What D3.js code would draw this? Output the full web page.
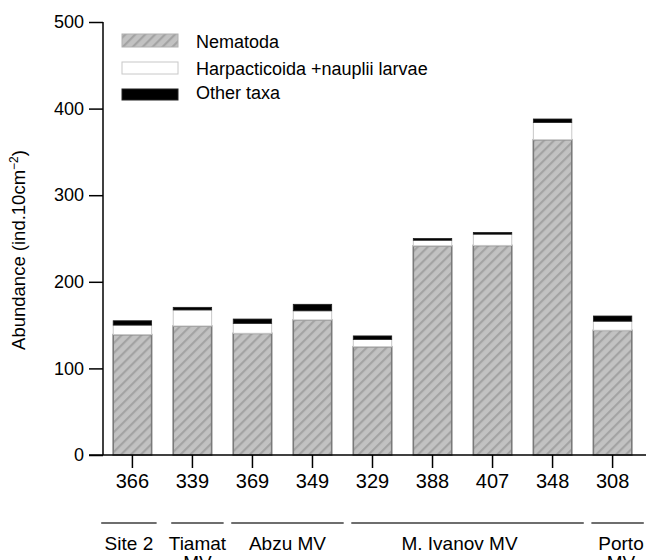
<!DOCTYPE html>
<html>
<head lang="en">
  <title>Abundance stacked bars</title>
  <script src="https://d3js.org/d3.v7.min.js" charset="utf-8"></script>
  <style>
    body { margin: 0; background: #fff; }
    text { font-family: "Liberation Sans", Arial, sans-serif; fill: #000; }
  </style>
</head>
<body>
  <script>

    // station codes and groups
    var stations = ["366", "339", "369", "349", "329", "388", "407", "348", "308"];
    var groups = ["Site 2", "Tiamat MV", "Abzu MV", "Abzu MV", "M. Ivanov MV", "M. Ivanov MV", "M. Ivanov MV", "M. Ivanov MV", "Porto MV"];
    var groupLabels = [["Site 2"], ["Tiamat", "MV"], ["Abzu MV"], ["M. Ivanov MV"], ["Porto", "MV"]];

    // abundances (ind. 10cm-2)
    var nematoda = [139, 149, 140.5, 156, 125, 241.5, 242, 364, 144];
    var harpacticoida = [11, 18.5, 11.5, 10.5, 8.5, 6.5, 13, 20, 10.5];
    var otherTaxa = [5, 3, 5, 7.5, 4, 2, 2, 4, 6];

    var yTicks = [0, 100, 200, 300, 400, 500];
    var seriesNames = ["Nematoda", "Harpacticoida +nauplii larvae", "Other taxa"];

    var width = 646;
    var height = 560;

    var svg = d3.select("body")
      .append("svg")
      .attr("width", width)
      .attr("height", height);

    // hatch pattern for nematoda
    var defs = svg.append("defs");
    var pat = defs.append("pattern")
      .attr("id", "hatch")
      .attr("patternUnits", "userSpaceOnUse")
      .attr("width", 7)
      .attr("height", 7)
      .attr("patternTransform", "rotate(45)");
    pat.append("rect")
      .attr("width", 7).attr("height", 7)
      .attr("fill", "#c2c2c2");
    pat.append("rect")
      .attr("width", 2.2).attr("height", 7)
      .attr("fill", "#a3a3a3");

    var x = d3.scaleBand()
      .domain(stations)
      .range([103, 642])
      .paddingInner(0.36)
      .paddingOuter(0.17);

    var y = d3.scaleLinear()
      .domain([0, 500])
      .range([455, 22]);

    var rows = stations.map(function(s, i) {
      return { station: s, group: groups[i], nem: nematoda[i], harp: harpacticoida[i], other: otherTaxa[i] };
    });

    var stack = d3.stack().keys(["nem", "harp", "other"])(rows);

    var fills = ["url(#hatch)", "#fff", "#000"];
    var strokes = ["#7a7a7a", "#c8c8c8", "#222"];
    var strokeW = [1.6, 1, 0.8];

    svg.append("g")
      .selectAll("g")
      .data(stack)
      .enter().append("g")
        .attr("fill", function(d, i) { return fills[i]; })
        .attr("stroke", function(d, i) { return strokes[i]; })
        .attr("stroke-width", function(d, i) { return strokeW[i]; })
      .selectAll("rect")
        .data(function(d) { return d; })
      .enter().append("rect")
        .attr("x", function(d) { return x(d.data.station); })
        .attr("width", x.bandwidth())
        .attr("y", function(d) { return y(d[1]); })
        .attr("height", function(d) { return y(d[0]) - y(d[1]); });

    // y axis
    var yAxis = svg.append("g")
      .attr("transform", "translate(103,0)")
      .call(d3.axisLeft(y).tickValues(yTicks).tickSize(14).tickPadding(5));
    yAxis.selectAll("line, path").attr("stroke", "#000").attr("stroke-width", 1.5);
    yAxis.select(".domain").attr("d", "M0," + y(500) + "V" + y(0));
    yAxis.selectAll("text").attr("font-size", "18px").attr("font-family", "Liberation Sans, Arial, sans-serif");

    // x axis line
    svg.append("line")
      .attr("x1", 89).attr("x2", width)
      .attr("y1", y(0)).attr("y2", y(0))
      .attr("stroke", "#000").attr("stroke-width", 1.5);

    var xAxis = svg.append("g")
      .attr("transform", "translate(0," + y(0) + ")")
      .call(d3.axisBottom(x).tickSize(13).tickPadding(6));
    xAxis.select(".domain").remove();
    xAxis.selectAll("line").attr("stroke", "#000").attr("stroke-width", 1.5);
    xAxis.selectAll("text").attr("font-size", "20px").attr("font-family", "Liberation Sans, Arial, sans-serif");

    // group lines and labels
    var groupNames = [];
    groups.forEach(function(g) { if (groupNames.indexOf(g) < 0) groupNames.push(g); });

    groupNames.forEach(function(g, gi) {
      var members = stations.filter(function(s, i) { return groups[i] === g; });
      var x0 = x(members[0]) - (gi === 0 ? 12 : 2);
      var x1 = Math.min(x(members[members.length - 1]) + x.bandwidth() + (gi === 0 ? 5 : 12), width);
      svg.append("line")
        .attr("x1", x0).attr("x2", x1)
        .attr("y1", 523).attr("y2", 523)
        .attr("stroke", "#6e6e6e").attr("stroke-width", 2);
      var cx = (x0 + x1) / 2;
      if (gi === groupNames.length - 1) cx = 621;
      if (gi === 3) cx -= 8;
      var t = svg.append("text")
        .attr("text-anchor", "middle")
        .attr("font-size", "19px")
        .attr("y", 550);
      groupLabels[gi].forEach(function(line, li) {
        t.append("tspan")
          .attr("x", cx)
          .attr("dy", li ? 19 : 0)
          .text(line);
      });
    });

    // y axis title
    var title = svg.append("text")
      .attr("transform", "translate(25," + 250 + ") rotate(-90)")
      .attr("text-anchor", "middle")
      .attr("font-size", "18.5px");
    title.append("tspan").text("Abundance (ind.10cm");
    title.append("tspan").attr("font-size", "12px").attr("dy", -7).text("\u22122");
    title.append("tspan").attr("dy", 7).text(")");

    // legend
    var legend = svg.append("g");
    var legY = [34, 62, 89];
    var legH = [13, 12, 11];
    seriesNames.forEach(function(name, i) {
      legend.append("rect")
        .attr("x", 122).attr("y", legY[i])
        .attr("width", 56).attr("height", legH[i])
        .attr("fill", fills[i])
        .attr("stroke", i === 0 ? "#b0b0b0" : strokes[i])
        .attr("stroke-width", 1);
      legend.append("text")
        .attr("x", 196)
        .attr("y", [48, 75, 99][i])
        .attr("font-size", "18px")
        .text(name);
    });

  </script>
</body>
</html>
